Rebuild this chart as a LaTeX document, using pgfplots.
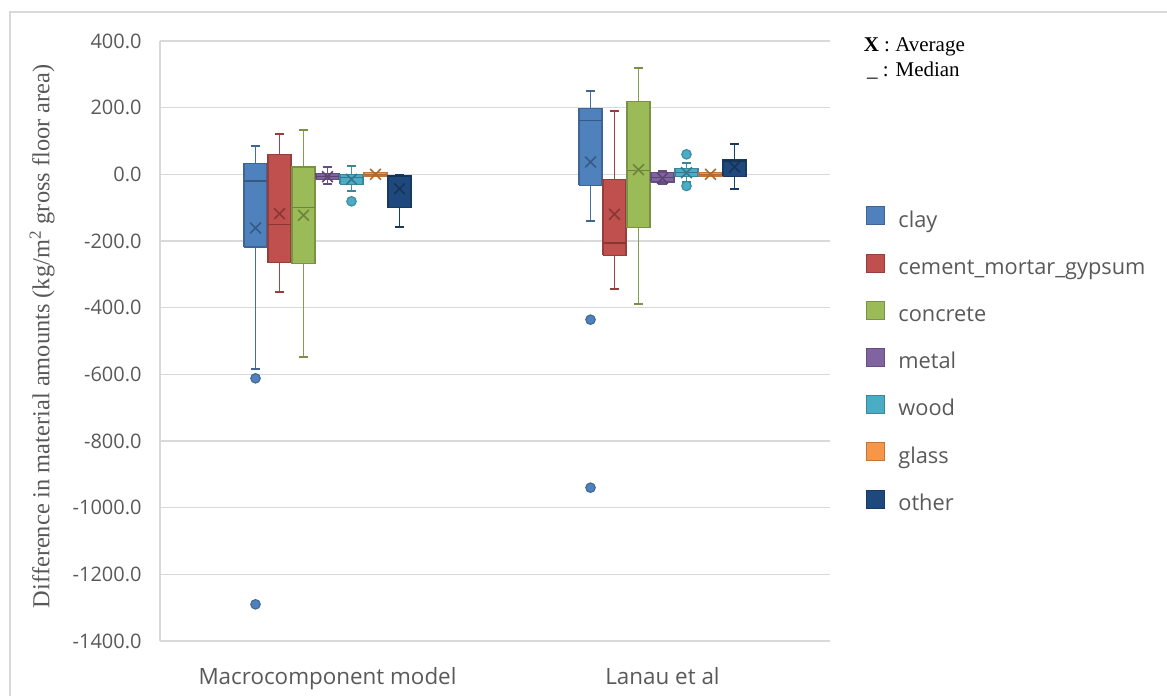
\documentclass[border=0pt]{standalone}
\usepackage{fontspec}
\setmainfont{Open Sans}
\newfontfamily\tnr{Liberation Serif}
\usepackage{pgfplots}
\pgfplotsset{compat=1.18}
\definecolor{cClay}{HTML}{4F81BD}
\definecolor{cCem}{HTML}{C0504D}
\definecolor{cCon}{HTML}{9BBB59}
\definecolor{cMet}{HTML}{8064A2}
\definecolor{cWood}{HTML}{4BACC6}
\definecolor{cGlass}{HTML}{F79646}
\definecolor{cOth}{HTML}{1F497D}
\definecolor{txt}{HTML}{595959}
\definecolor{grd}{HTML}{D9D9D9}
\pgfplotsset{
  legsq/.style={fill=#1, draw=#1!78!black},
}
% #1 colour, #2 position, #3 lower whisker, #4 lower quartile, #5 median, #6 upper quartile, #7 upper whisker, #8 average
\newcommand{\bx}[8]{%
  \pgfmathsetmacro\bxl{#2-0.034}%
  \pgfmathsetmacro\bxr{#2+0.034}%
  \pgfmathsetmacro\bcl{#2-0.0125}%
  \pgfmathsetmacro\bcr{#2+0.0125}%
  \edef\bxdoit{%
    \noexpand\addplot[draw=#1!85!black, line width=0.9pt, forget plot] coordinates {(#2,#3) (#2,#4)};
    \noexpand\addplot[draw=#1!85!black, line width=0.9pt, forget plot] coordinates {(#2,#6) (#2,#7)};
    \noexpand\addplot[draw=#1!78!black, line width=0.9pt, forget plot] coordinates {(\bcl,#3) (\bcr,#3)};
    \noexpand\addplot[draw=#1!78!black, line width=0.9pt, forget plot] coordinates {(\bcl,#7) (\bcr,#7)};
    \noexpand\addplot[fill=#1, draw=#1!78!black, line width=0.8pt, forget plot] coordinates {(\bxl,#4) (\bxr,#4) (\bxr,#6) (\bxl,#6) (\bxl,#4)};
    \noexpand\addplot[draw=#1!70!black, line width=0.8pt, forget plot] coordinates {(\bxl,#5) (\bxr,#5)};
    \noexpand\addplot[draw=#1!70!black, line width=0.8pt, only marks, mark=x, mark size=3.8pt, forget plot] coordinates {(#2,#8)};
  }\bxdoit
}
\newcommand{\outl}[2]{\addplot[only marks, mark=*, mark size=2.4pt, mark options={fill=#1, draw=#1!78!black, line width=0.5pt}, forget plot] coordinates {#2};}
\begin{document}
\begin{tikzpicture}
\useasboundingbox (0,0) rectangle (583.5pt,348pt);
\draw[grd, line width=0.75pt] (5pt,0pt) -- (5pt,342pt) -- (583.5pt,342pt);
\begin{axis}[
  scale only axis, width=335pt, height=300pt,
  at={(80pt,27.5pt)}, anchor=south west,
  xmin=0.5, xmax=2.5, ymin=-1400, ymax=400,
  xtick={1,2}, xticklabels={Macrocomponent model, Lanau et al},
  ytick={-1400,-1200,-1000,-800,-600,-400,-200,0,200,400},
  ymajorgrids, grid style={grd, line width=0.75pt},
  axis x line*=bottom, axis y line*=left,
  axis line style={grd, line width=0.75pt, -},
  major tick length=0pt,
  /pgf/number format/fixed, /pgf/number format/fixed zerofill, /pgf/number format/precision=1,
  /pgf/number format/1000 sep={}, /pgf/number format/assume math mode=true,
  yticklabel style={font=\fontsize{10}{12}\selectfont, text=txt, anchor=east, inner sep=0pt, xshift=-9pt},
  xticklabel style={font=\fontsize{11.2}{13}\selectfont, text=txt, anchor=north, inner sep=0pt, yshift=-13pt},
  ylabel={Difference in material amounts (kg/m\textsuperscript{2} gross floor area)},
  ylabel style={font=\tnr\fontsize{12.2}{14}\selectfont, text=txt, at={(axis description cs:-0.176,0.508)}, anchor=center},
  legend style={at={(rel axis cs:1.0537,0.725)}, anchor=north west, draw=none, fill=none,
    font=\fontsize{10.9}{12}\selectfont, text=txt, inner sep=0pt, row sep=10.7pt, column sep=6.5pt,
    nodes={inner sep=0pt, text height=8pt, text depth=2.5pt}},
  legend cell align=left,
  legend image code/.code={\draw[#1, line width=0.5pt] (0pt,-1.6pt) rectangle (9pt,7.4pt);},
]
% Macrocomponent model
\bx{cClay}{0.7851}{-585}{-218}{-20}{32}{85}{-161}
\outl{cClay}{(0.7851,-612) (0.7851,-1290)}
\bx{cCem}{0.8567}{-354}{-265}{-150}{60}{121}{-118}
\bx{cCon}{0.9284}{-549}{-268}{-100}{22}{132}{-123}
\bx{cMet}{1.0}{-28}{-15}{-7}{2}{22}{-7}
\bx{cWood}{1.0716}{-50}{-30}{-10}{0}{24}{-15}
\outl{cWood}{(1.0716,-81)}
\bx{cGlass}{1.1433}{-5}{-5}{0}{5}{5}{0}
\bx{cOth}{1.2149}{-158}{-100}{-5}{-5}{-2}{-43}
% Lanau et al
\bx{cClay}{1.7851}{-141}{-33}{162}{197}{249}{37}
\outl{cClay}{(1.7851,-436) (1.7851,-940)}
\bx{cCem}{1.8567}{-345}{-243}{-206}{-16}{191}{-120}
\bx{cCon}{1.9284}{-390}{-160}{12}{219}{320}{14}
\bx{cMet}{2.0}{-30}{-23}{-10}{6}{10}{-12}
\bx{cWood}{2.0716}{-23}{-6}{5}{18}{33}{5}
\outl{cWood}{(2.0716,60) (2.0716,-35)}
\bx{cGlass}{2.1433}{-5}{-5}{0}{5}{5}{0}
\bx{cOth}{2.2149}{-44}{-6}{40}{44}{90}{22}
\addlegendimage{legsq=cClay}\addlegendentry{clay}
\addlegendimage{legsq=cCem}\addlegendentry{cement\_mortar\_gypsum}
\addlegendimage{legsq=cCon}\addlegendentry{concrete}
\addlegendimage{legsq=cMet}\addlegendentry{metal}
\addlegendimage{legsq=cWood}\addlegendentry{wood}
\addlegendimage{legsq=cGlass}\addlegendentry{glass}
\addlegendimage{legsq=cOth}\addlegendentry{other}
\end{axis}
\node[anchor=base west, inner sep=0pt, font=\tnr\fontsize{10.5}{12}\selectfont] at (431.7pt,322.2pt) {\textbf{X} : Average};
\node[anchor=base west, inner sep=0pt, font=\tnr\fontsize{10.5}{12}\selectfont] at (433.3pt,309.7pt) {\_ : Median};
\end{tikzpicture}
\end{document}
